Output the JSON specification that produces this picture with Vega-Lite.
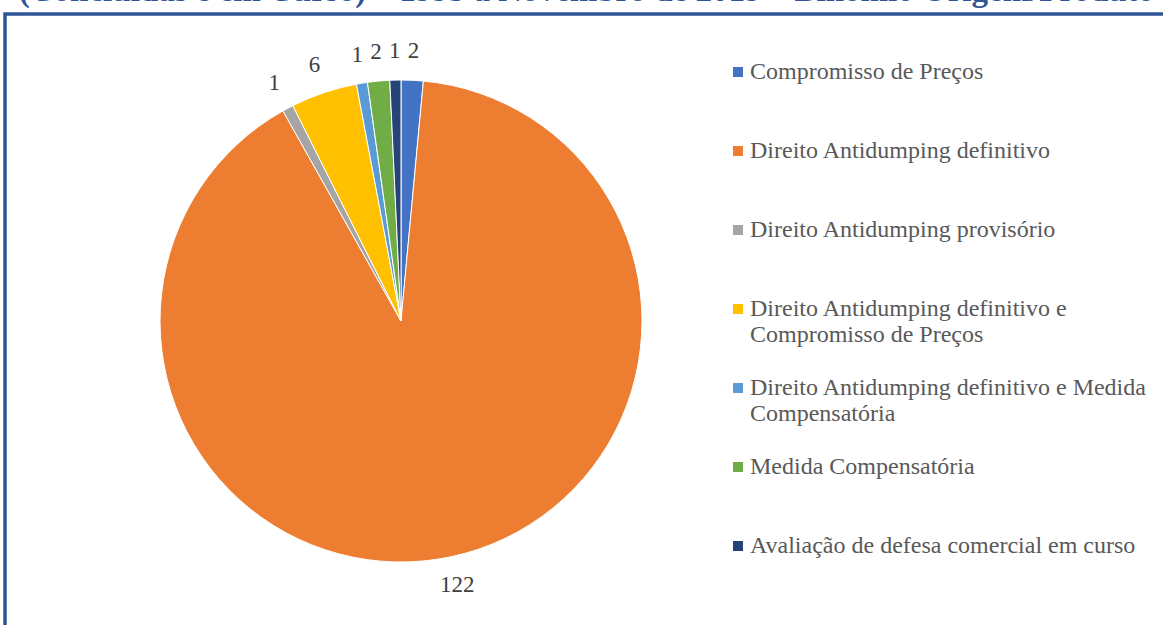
{
  "$schema": "https://vega.github.io/schema/vega-lite/v6.json",
  "autosize": {"type": "none"},
  "width": 1163,
  "height": 625,
  "padding": {"left": 5, "top": 14, "right": -5, "bottom": -14},
  "background": "white",
  "view": {"stroke": "#2F5597", "strokeWidth": 3.5},
  "title": {
    "text": "(Concluídas e em Curso) – 1995 a Novembro de 2019 – Binômio Origem/Produto",
    "font": "Liberation Serif",
    "fontSize": 33,
    "fontWeight": "bold",
    "color": "#2F5597",
    "anchor": "middle",
    "frame": "group",
    "baseline": "alphabetic",
    "offset": 5,
    "dy": 25
  },
  "data": {
    "values": [
      {"ordem": 1, "categoria": "Compromisso de Preços", "quantidade": 2},
      {"ordem": 2, "categoria": "Direito Antidumping definitivo", "quantidade": 122},
      {"ordem": 3, "categoria": "Direito Antidumping provisório", "quantidade": 1},
      {"ordem": 4, "categoria": "Direito Antidumping definitivo e Compromisso de Preços", "quantidade": 6},
      {"ordem": 5, "categoria": "Direito Antidumping definitivo e Medida Compensatória", "quantidade": 1},
      {"ordem": 6, "categoria": "Medida Compensatória", "quantidade": 2},
      {"ordem": 7, "categoria": "Avaliação de defesa comercial em curso", "quantidade": 1}
    ]
  },
  "encoding": {
    "theta": {"field": "quantidade", "type": "quantitative", "stack": true},
    "order": {"field": "ordem", "type": "quantitative"}
  },
  "layer": [
    {
      "mark": {"type": "arc", "outerRadius": 241, "x": 396, "y": 307, "stroke": "white", "strokeWidth": 1},
      "encoding": {
        "color": {
          "field": "categoria",
          "type": "nominal",
          "sort": [
            "Compromisso de Preços",
            "Direito Antidumping definitivo",
            "Direito Antidumping provisório",
            "Direito Antidumping definitivo e Compromisso de Preços",
            "Direito Antidumping definitivo e Medida Compensatória",
            "Medida Compensatória",
            "Avaliação de defesa comercial em curso"
          ],
          "scale": {
            "range": ["#4472C4", "#ED7D31", "#A5A5A5", "#FFC000", "#5B9BD5", "#70AD47", "#264478"]
          },
          "legend": {
            "title": null,
            "orient": "none",
            "legendX": 721,
            "legendY": 46,
            "padding": 0,
            "gridAlign": "all",
            "symbolType": "square",
            "symbolSize": 100,
            "symbolStrokeWidth": 0,
            "labelFont": "Liberation Serif",
            "labelFontSize": 24,
            "labelColor": "#595959",
            "labelOffset": 0,
            "labelLimit": 500,
            "labelBaseline": "middle",
            "labelLineHeight": 27,
            "rowPadding": 29,
            "labelExpr": "datum.label == 'Direito Antidumping definitivo e Compromisso de Preços' ? ['Direito Antidumping definitivo e', 'Compromisso de Preços'] : datum.label == 'Direito Antidumping definitivo e Medida Compensatória' ? ['Direito Antidumping definitivo e Medida', 'Compensatória'] : datum.label"
          }
        }
      }
    },
    {
      "mark": {"type": "text", "radius": 270, "x": 396, "y": 307, "font": "Liberation Serif", "fontSize": 23, "color": "#404040"},
      "encoding": {
        "text": {"field": "quantidade", "type": "quantitative"}
      }
    }
  ]
}
